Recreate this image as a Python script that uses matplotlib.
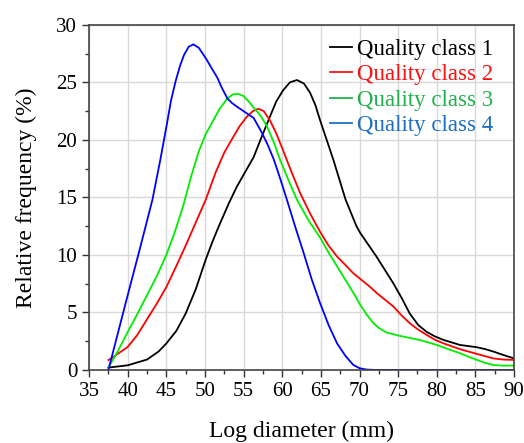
import matplotlib.pyplot as plt
from matplotlib.ticker import MultipleLocator

# values
x1 = [37.5, 40, 42.5, 44, 45, 46.3, 47.5, 48.8, 50.1, 51, 51.8, 53.1, 54.1, 55.2, 56.3, 57.3,
      58.4, 59.2, 60.1, 61, 61.9, 62.8, 63.6, 64.3, 64.9, 66.6, 68.2, 69.6, 70.1, 72.2, 74.4,
      75.5, 76.5, 77.6, 78.7, 79.8, 80.9, 83, 85.2, 86.3, 87.3, 88.6, 90]
y1 = [0.2, 0.4, 0.9, 1.6, 2.3, 3.4, 4.9, 7.0, 9.6, 11.2, 12.5, 14.5, 15.9, 17.2, 18.5, 20.2,
      22.0, 23.3, 24.3, 25.0, 25.2, 24.9, 24.1, 23.0, 21.7, 18.3, 14.8, 12.5, 11.9, 9.85, 7.5,
      6.2, 4.9, 3.9, 3.3, 2.9, 2.6, 2.17, 1.97, 1.8, 1.6, 1.3, 1.0]

x2 = [37.5, 38.5, 40, 41.2, 42.5, 43.8, 45, 46.2, 47.5, 48.8, 50.1, 51.4, 52.5, 53.7, 54.5,
      55.4, 56.2, 56.9, 57.6, 58.4, 59.2, 60.1, 61.2, 62.3, 63.6, 64.9, 66, 67.1, 68.2, 69.2,
      70.3, 71.4, 72.2, 73.3, 74.4, 75.5, 76.5, 77.6, 78.7, 79.8, 80.9, 83, 85.2, 87.3, 88.6, 90]
y2 = [0.85, 1.3, 2.0, 3.0, 4.4, 5.8, 7.2, 8.9, 10.8, 12.8, 14.8, 17.2, 18.9, 20.3, 21.2,
      22.0, 22.5, 22.7, 22.5, 21.7, 20.6, 19.1, 17.2, 15.4, 13.6, 12.0, 10.8, 9.85, 9.1, 8.4,
      7.8, 7.2, 6.7, 6.1, 5.5, 4.7, 4.06, 3.5, 3.04, 2.6, 2.3, 1.8, 1.39, 1.0, 0.9, 0.87]

x3 = [37.5, 38.7, 40, 41.2, 42.5, 43.8, 45, 46.1, 47.2, 48.2, 49.2, 50.1, 51.0, 51.9, 52.9,
      53.6, 54.3, 55.0, 55.7, 56.3, 57.2, 58.0, 58.9, 59.7, 60.8, 61.9, 63.4, 64.9, 66, 67.1,
      68.2, 69.2, 70.1, 71, 71.8, 72.6, 73.5, 75.2, 77.8, 80, 81.5, 83, 84.1, 85.2, 86.3, 87.3,
      88.5, 90]
y3 = [0.2, 1.6, 3.3, 4.8, 6.5, 8.2, 10.0, 12.0, 14.3, 16.8, 19.0, 20.5, 21.6, 22.7, 23.6,
      23.95, 24.0, 23.8, 23.3, 22.8, 22.1, 21.2, 19.8, 18.3, 16.5, 14.8, 13.0, 11.5, 10.2, 9.0,
      7.8, 6.7, 5.65, 4.75, 4.06, 3.6, 3.25, 2.96, 2.6, 2.17, 1.8, 1.45, 1.15, 0.87, 0.6, 0.43,
      0.37, 0.38]

x4 = [37.5, 40, 41.6, 43.2, 44.2, 45.05, 45.6, 46.2, 46.8, 47.3, 47.9, 48.5, 49.2, 50.1, 50.8,
      51.6, 52.2, 52.9, 53.5, 54.1, 55.2, 56.3, 57.3, 58.1, 58.9, 59.7, 60.6, 61.7, 62.8, 63.8,
      64.9, 66, 67.1, 68.2, 69.2, 70.0, 70.9, 72, 90]
y4 = [0, 6.5, 10.6, 14.8, 18.2, 21.3, 23.4, 25.1, 26.5, 27.4, 28.1, 28.3, 28.0, 27.1, 26.3,
      25.4, 24.5, 23.6, 23.2, 22.9, 22.4, 21.9, 20.7, 19.6, 18.3, 16.7, 14.8, 12.4, 10.1, 7.9,
      5.8, 3.9, 2.3, 1.2, 0.43, 0.15, 0.03, 0, 0]

labels = ["Quality class 1", "Quality class 2", "Quality class 3", "Quality class 4"]
line_colors = ["black", "#ff0000", "#00ee00", "#0000ff"]
text_colors = ["black", "#ff1010", "#22b14c", "#1f6fc4"]

plt.rcParams["font.family"] = "Liberation Serif"

fig = plt.figure(figsize=(5.24, 4.43), dpi=100)
ax = fig.add_axes([0.170, 0.165, 0.811, 0.779])

for xs, ys, c in zip([x1, x2, x3, x4], [y1, y2, y3, y4], line_colors):
    ax.plot(xs, ys, color=c, lw=1.3, solid_joinstyle="round")

ax.set_xlim(35, 90)
ax.set_ylim(0, 30)
ax.xaxis.set_major_locator(MultipleLocator(5))
ax.xaxis.set_minor_locator(MultipleLocator(2.5))
ax.yaxis.set_major_locator(MultipleLocator(5))
ax.yaxis.set_minor_locator(MultipleLocator(2.5))
ax.grid(True, which="major", color="#d9d9d9", lw=1)
ax.set_axisbelow(True)
ax.tick_params(which="major", length=5, width=1, labelsize=15, color="#333333")
ax.tick_params(which="minor", length=3, width=1, color="#333333")
for s in ax.spines.values():
    s.set_color("#444444")
    s.set_linewidth(1.2)

ax.set_xlabel("Log diameter (mm)", fontsize=17, labelpad=14.5)
ax.set_ylabel("Relative frequency (%)", fontsize=17, labelpad=14)

handles = [plt.Line2D([], [], color=c, lw=1.3) for c in text_colors]
leg = ax.legend(handles, labels, loc="upper right", bbox_to_anchor=(0.984, 1.0),
                frameon=False, fontsize=16.5, handlelength=0.95, handletextpad=0.25,
                labelspacing=0.2, borderaxespad=0.4, borderpad=0.2)
for t, c in zip(leg.get_texts(), text_colors):
    t.set_color(c)

fig.savefig("out.png", dpi=100)
